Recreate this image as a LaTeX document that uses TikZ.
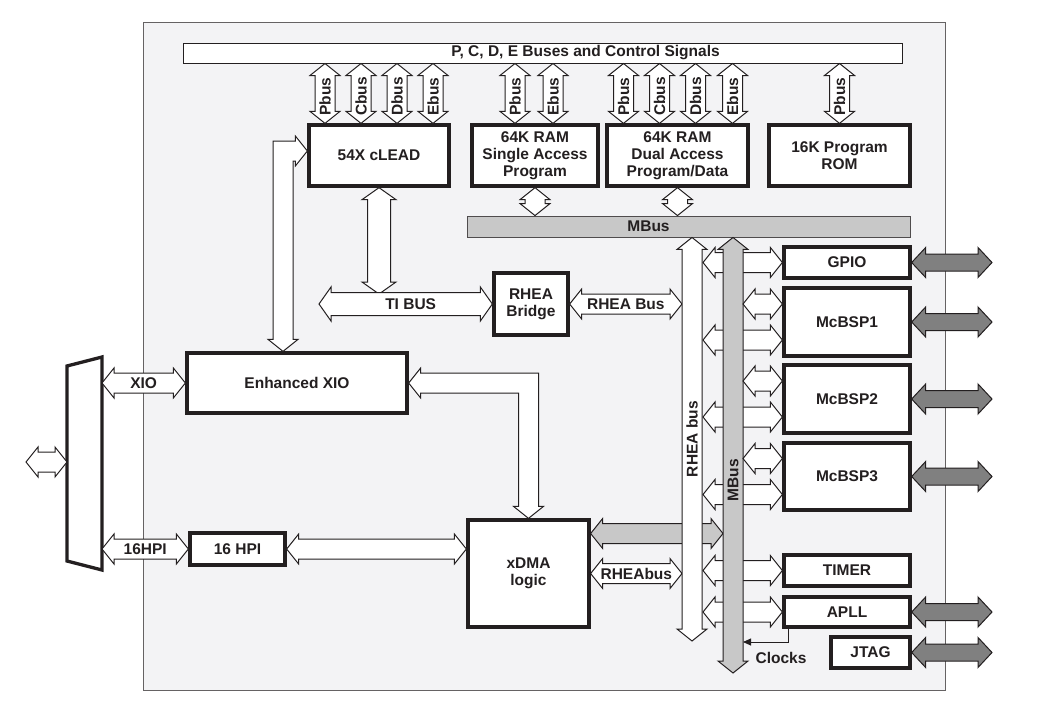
\documentclass[tikz,border=0pt]{standalone}
\usepackage{fontspec}
\setmainfont{Liberation Sans}
\usetikzlibrary{calc}
\usetikzlibrary{arrows.meta}
\definecolor{panel}{HTML}{F3F3F5}
\definecolor{busgray}{HTML}{C8C8C8}
\definecolor{extgray}{HTML}{808080}
\definecolor{ink}{HTML}{231F20}
\tikzset{>=latex}
\def\bh{15pt}\def\bs{10pt}\def\bl{12pt}
% horizontal bus arrow [fill] {from} {to} {name}, its height comes from {to}
\newcommand\hbus[4][white]{%
  \draw[busline, fill=#1] let \p1=#2, \p2=#3 in
    (\x1,\y2) -- (\x1+\bl,\y2+\bh) -- (\x1+\bl,\y2+\bs) -- (\x2-\bl,\y2+\bs) -- (\x2-\bl,\y2+\bh)
    -- (\x2,\y2) -- (\x2-\bl,\y2-\bh) -- (\x2-\bl,\y2-\bs) -- (\x1+\bl,\y2-\bs) -- (\x1+\bl,\y2-\bh) -- cycle
    ({(\x1+\x2)/2},\y2) coordinate (#4);}
% vertical bus arrow [fill] {top} {bottom} {name}, its x comes from {bottom}
\newcommand\vbus[4][white]{%
  \draw[busline, fill=#1] let \p1=#2, \p2=#3 in
    (\x2,\y1) -- (\x2+\bh,\y1-\bl) -- (\x2+\bs,\y1-\bl) -- (\x2+\bs,\y2+\bl) -- (\x2+\bh,\y2+\bl)
    -- (\x2,\y2) -- (\x2-\bh,\y2+\bl) -- (\x2-\bs,\y2+\bl) -- (\x2-\bs,\y1-\bl) -- (\x2-\bh,\y1-\bl) -- cycle
    (\x2,{(\y1+\y2)/2}) coordinate (#4);}
\begin{document}
\begin{tikzpicture}[x=1pt, y=-1pt,
    box/.style={draw=ink, line width=3.3pt, fill=white, inner sep=0pt, align=center,
      font=\fontsize{15.5pt}{17pt}\selectfont\bfseries, text=ink},
    lbl/.style={inner sep=0pt, font=\fontsize{15.5pt}{17pt}\selectfont\bfseries, text=ink},
    busline/.style={draw=ink, line width=1pt, line join=miter}]
  \useasboundingbox (0,0) rectangle (1040,712);
  \draw[draw=ink!70, line width=1pt, fill=panel] (143,22) rectangle (945,690);
  % free ends
  \coordinate (extL) at (26,462);
  \coordinate (muxW) at (67,462);
  \coordinate (muxE) at (102,462);
  \coordinate (tiL) at (319,305);
  \coordinate (tiTop) at (319,294);
  \coordinate (rheaL) at (682,0);
  \coordinate (rheaR) at (703,0);
  \coordinate (mbusL) at (723,0);
  \coordinate (mbusR) at (743,0);
  \coordinate (rheaEnd) at (692,641);
  \coordinate (mbusEnd) at (733,673);
  \coordinate (extR) at (992,0);
  \coordinate (clk) at (743,642);
  % top buses
  \node[draw=ink, line width=1pt, fill=white, minimum width=719pt, minimum height=20pt, inner sep=0pt] (bus) at (542.5,53) {};
  \node[lbl] (bus-t) at ([xshift=43pt]bus.center) {P, C, D, E Buses and Control Signals};
  % blocks
  \node[box, minimum width=140pt, minimum height=61pt] (clead) at (379,155.5) {54X cLEAD};
  \node[box, minimum width=126pt, minimum height=61pt] (ram1) at (535,155.5) {64K RAM\\Single Access\\Program};
  \node[box, minimum width=141pt, minimum height=61pt] (ram2) at (677.5,155.5) {64K RAM\\Dual Access\\Program/Data};
  \node[box, minimum width=141pt, minimum height=61pt] (rom) at (839.5,155.5) {16K Program\\ROM};
  \node[draw=ink!80, line width=0.9pt, fill=busgray, minimum width=443pt, minimum height=21pt, inner sep=0pt] (mbus) at (688.5,226.5) {};
  \node[lbl] (mbus-t) at ([xshift=-40pt]mbus.center) {MBus};
  \node[box, minimum width=74pt, minimum height=62pt] (bridge) at (531,304) {RHEA\\Bridge};
  \node[box, minimum width=220pt, minimum height=60pt] (exio) at (297,383) {Enhanced XIO};
  \node[box, minimum width=95pt, minimum height=32pt] (hpi) at (237.5,549) {16 HPI};
  \node[box, minimum width=121pt, minimum height=107pt] (xdma) at (528.5,573.5) {xDMA\\logic};
  \coordinate (dmaBus) at ([yshift=40pt]xdma.east);
  % peripherals
  \node[box, minimum width=126pt, minimum height=31pt] (gpio) at (847,262.5) {GPIO};
  \node[box, minimum width=126pt, minimum height=68pt] (mcbsp1) at (847,322) {McBSP1};
  \node[box, minimum width=126pt, minimum height=68pt] (mcbsp2) at (847,399) {McBSP2};
  \node[box, minimum width=126pt, minimum height=67pt] (mcbsp3) at (847,476.5) {McBSP3};
  \node[box, minimum width=126pt, minimum height=31pt] (timer) at (847,570.5) {TIMER};
  \node[box, minimum width=126pt, minimum height=30pt] (apll) at (847,612) {APLL};
  \node[box, minimum width=79pt, minimum height=31pt] (jtag) at (870.5,652.5) {JTAG};
  % bus taps
  \foreach \dx/\nm in {-54/Pbus,-18/Cbus,18/Dbus,54/Ebus} {
    \vbus{(bus.south)}{([xshift=\dx pt]clead.north)}{cl-\nm}
    \node[lbl, rotate=90] (cl-\nm-t) at ([yshift=-3pt]cl-\nm) {\nm};
  }
  \foreach \dx/\nm in {-20/Pbus,18/Ebus} {
    \vbus{(bus.south)}{([xshift=\dx pt]ram1.north)}{ra-\nm}
    \node[lbl, rotate=90] (ra-\nm-t) at ([yshift=-3pt]ra-\nm) {\nm};
  }
  \foreach \dx/\nm in {-54/Pbus,-18/Cbus,18/Dbus,55/Ebus} {
    \vbus{(bus.south)}{([xshift=\dx pt]ram2.north)}{rd-\nm}
    \node[lbl, rotate=90] (rd-\nm-t) at ([yshift=-3pt]rd-\nm) {\nm};
  }
  \vbus{(bus.south)}{(rom.north)}{ro-Pbus}
  \node[lbl, rotate=90] (ro-Pbus-t) at ([yshift=-3pt]ro-Pbus) {Pbus};
  % memories to MBus
  \vbus{(ram1.south)}{(ram1.south |- mbus.north)}{ram1-m}
  \vbus{(ram2.south)}{(ram2.south |- mbus.north)}{ram2-m}
  % TI bus
  {\def\bs{11.5pt}\def\bh{17pt}
  \vbus{(clead.south)}{(clead.south |- tiTop)}{clead-ti}
  \hbus{(tiL)}{(bridge.west)}{tibus}}
  \node[lbl] (tibus-t) at ([xshift=5pt]tibus) {TI BUS};
  \hbus{(bridge.east)}{(bridge.east -| rheaL)}{rheab}
  \node[lbl] (rheab-t) at (rheab) {RHEA Bus};
  % cLEAD <-> Enhanced XIO
  \draw[busline, fill=white] let \p1=([yshift=4.5pt]clead.west), \p2=([xshift=-14pt]exio.north) in
    (\x1,\y1) -- (\x1-\bl,\y1+\bh) -- (\x1-\bl,\y1+\bs) -- (\x2-\bs,\y1+\bs) -- (\x2-\bs,\y2+\bl)
    -- (\x2-\bh,\y2+\bl) -- (\x2,\y2) -- (\x2+\bh,\y2+\bl) -- (\x2+\bs,\y2+\bl) -- (\x2+\bs,\y1-\bs)
    -- (\x1-\bl,\y1-\bs) -- (\x1-\bl,\y1-\bh) -- cycle;
  % Enhanced XIO <-> xDMA
  \draw[busline, fill=white] let \p1=(exio.east), \p2=(xdma.north) in
    (\x1,\y1) -- (\x1+\bl,\y1+\bh) -- (\x1+\bl,\y1+\bs) -- (\x2+\bs,\y1+\bs) -- (\x2+\bs,\y2+\bl)
    -- (\x2+\bh,\y2+\bl) -- (\x2,\y2) -- (\x2-\bh,\y2+\bl) -- (\x2-\bs,\y2+\bl) -- (\x2-\bs,\y1-\bs)
    -- (\x1+\bl,\y1-\bs) -- (\x1+\bl,\y1-\bh) -- cycle;
  % external port
  \draw[line width=3.3pt, draw=ink, fill=white, line join=miter] (67,366) -- (102,357) -- (102,570) -- (67,561) -- cycle;
  \hbus{(extL)}{(muxW)}{ext}
  \hbus{(muxE)}{(exio.west)}{xio}
  \node[lbl] (xio-t) at (xio) {XIO};
  \hbus{(muxE)}{(hpi.west)}{hpi16}
  \node[lbl] (hpi16-t) at (hpi16) {16HPI};
  \hbus{(hpi.east)}{(hpi.east -| xdma.west)}{hpi-dma}
  % xDMA to MBus and RHEA bus
  \hbus[busgray]{(xdma.east)}{(dmaBus -| mbusL)}{dma-m}
  \hbus{(xdma.east)}{(xdma.east -| rheaL)}{rheadma}
  \node[lbl] (rheadma-t) at (rheadma) {RHEAbus};
  % RHEA bus
  \vbus{(mbus.south)}{(rheaEnd)}{rheav}
  \node[lbl, rotate=90] (rheav-t) at (rheav) {RHEA bus};
  \foreach \b in {gpio,timer,apll} {\hbus{(rheaR)}{(\b.west)}{\b-r}}
  \foreach \b in {mcbsp1,mcbsp2,mcbsp3} {\hbus{(rheaR)}{([yshift=-18pt]\b.west)}{\b-r}}
  % MBus
  \vbus[busgray]{(mbus.south)}{(mbusEnd)}{mbusv}
  \node[lbl, rotate=90] (mbusv-t) at ([yshift=-25pt]mbusv) {MBus};
  \foreach \b in {mcbsp1,mcbsp2,mcbsp3} {\hbus{(mbusR)}{([yshift=18pt]\b.west)}{\b-m}}
  % pins
  {\def\bs{8.5pt}\def\bl{14pt}
  \foreach \b in {gpio,mcbsp1,mcbsp2,mcbsp3,apll,jtag} {\hbus[extgray]{(\b.east)}{(\b.east -| extR)}{\b-x}}}
  % clocks
  \draw[draw=ink, line width=0.9pt, -{Triangle[length=8pt,width=7pt]}] ([xshift=6pt]apll.south west) |- (clk);
  \node[lbl] (clocks) at (781,658) {Clocks};
\end{tikzpicture}
\end{document}
